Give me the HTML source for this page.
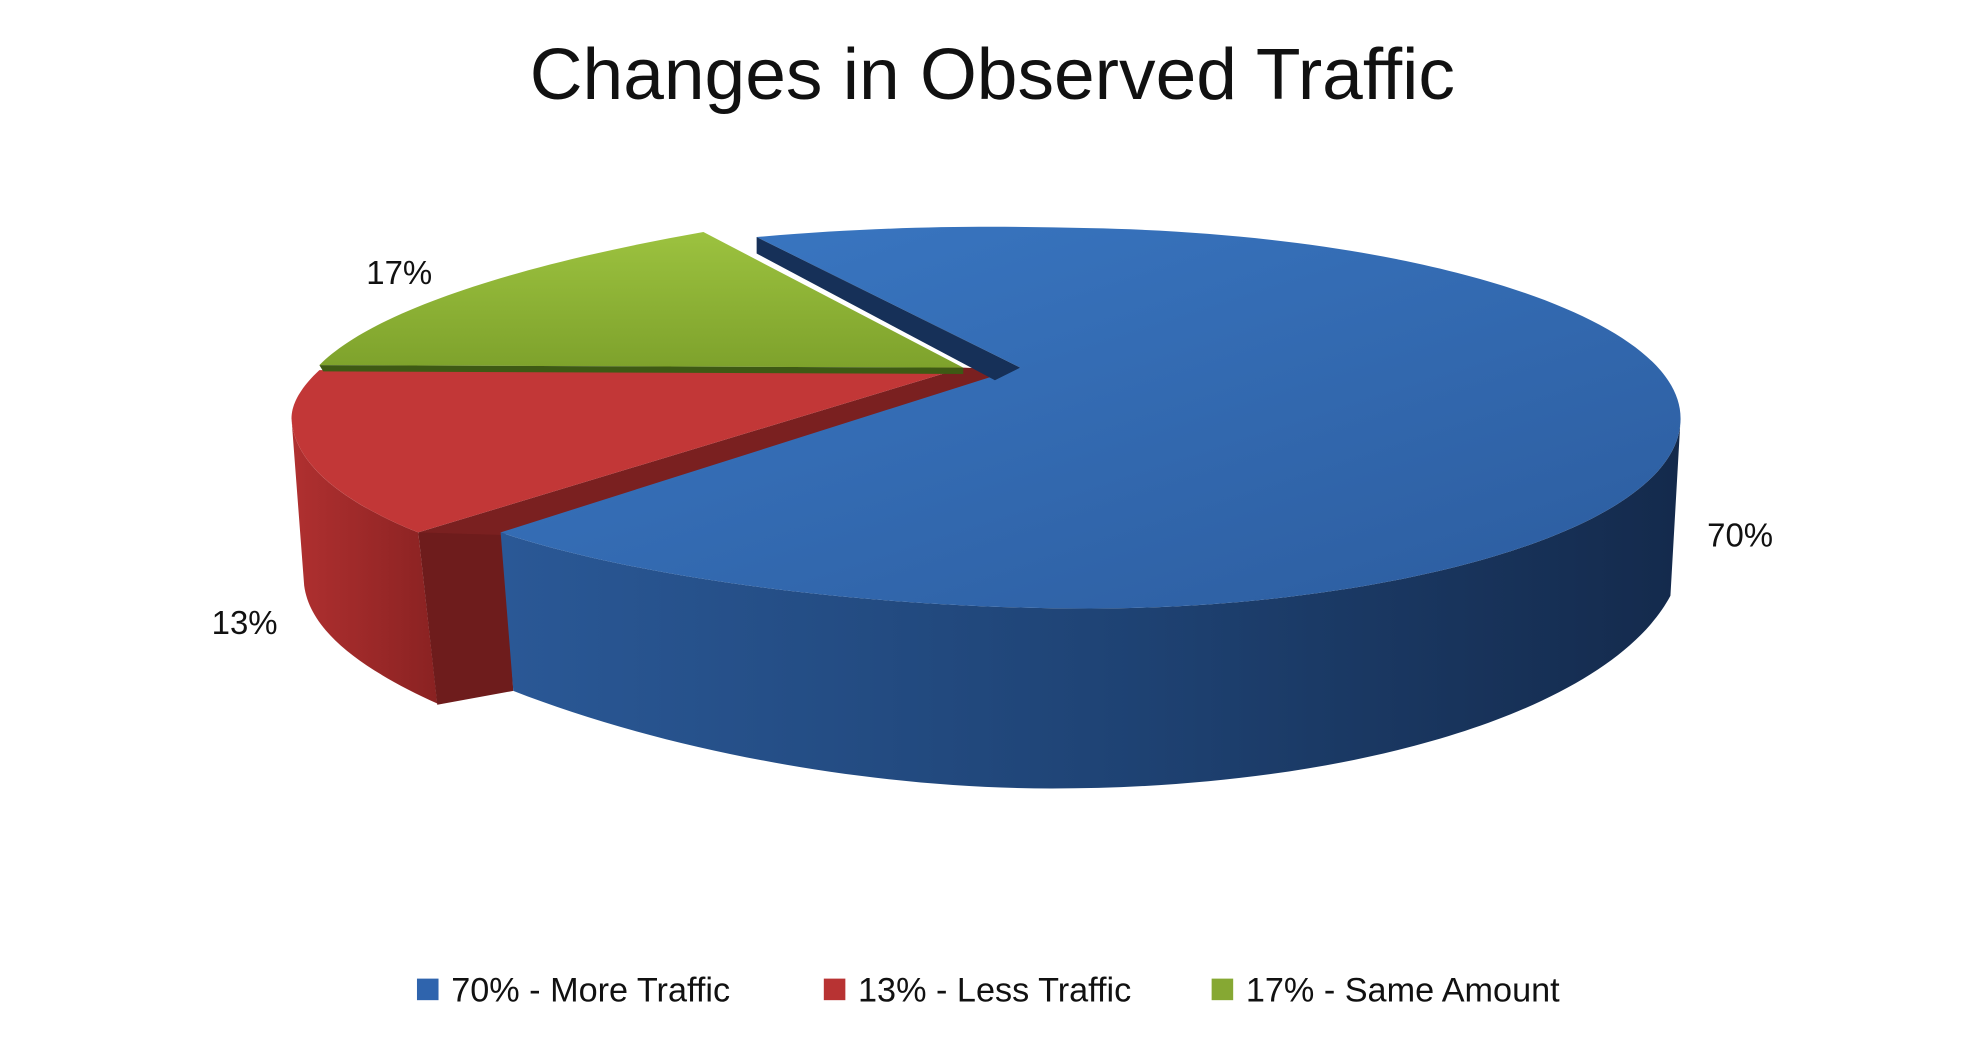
<!DOCTYPE html>
<html><head><meta charset="utf-8"><style>
html,body{margin:0;padding:0;background:#fff;}
svg{display:block}
text{font-family:"Liberation Sans",sans-serif;fill:#111}
</style></head><body>
<svg width="1967" height="1042" viewBox="0 0 1552 822" preserveAspectRatio="none">
<defs>
<linearGradient id="bs" x1="0" x2="1" y1="0" y2="0">
<stop offset="0" stop-color="#2a5896"/><stop offset="0.5" stop-color="#1f4476"/><stop offset="1" stop-color="#142a4c"/></linearGradient>
<linearGradient id="bt" x1="0" x2="1" y1="0" y2="1">
<stop offset="0" stop-color="#3a78c4"/><stop offset="1" stop-color="#2c5c9e"/></linearGradient>
<linearGradient id="rs" x1="0" x2="1"><stop offset="0" stop-color="#b03030"/><stop offset="1" stop-color="#8a2222"/></linearGradient>
<linearGradient id="gt" x1="0" x2="0" y1="0" y2="1"><stop offset="0" stop-color="#9cc23f"/><stop offset="1" stop-color="#7ea22c"/></linearGradient>
</defs>
<text x="783" y="78" font-size="57" text-anchor="middle" textLength="730" lengthAdjust="spacingAndGlyphs">Changes in Observed Traffic</text>
<!-- red side -->
<path d="M230,330 C232,370 280,400 330,420 L345,555 C290,530 245,500 240,462 Z" fill="url(#rs)"/>
<path d="M330,420 L397,408 L405,545 L345,556 Z" fill="#6e1c1c"/>
<!-- red inner face -->
<path d="M760,290 L330,420 L397,422 L805,292 Z" fill="#7a2020"/>
<!-- red top -->
<path d="M760,290 L252,292 C238,305 230,318 230,330 C232,370 280,400 330,420 Z" fill="#c23737"/>
<!-- green top -->
<path d="M760,290 L555,183 C430,205 300,240 252,288 Z" fill="url(#gt)"/>
<path d="M252,288 L760,290 L760,295 L255,293 Z" fill="#3e5a14"/>
<!-- blue side -->
<path d="M1326,330 C1326,420 1090,480 860,480 C680,480 500,455 395,420 L405,545 C520,590 680,622 830,622 C1070,622 1270,560 1318,470 Z" fill="url(#bs)"/>
<!-- blue top -->
<path d="M805,290 L597,187 C700,178 780,178 860,180 C1120,185 1326,250 1326,330 C1326,420 1090,480 860,480 C680,480 500,455 395,420 Z" fill="url(#bt)"/>
<path d="M805,290 L597,187 L597,200 L785,300 Z" fill="#163058"/>
<text x="315" y="224" font-size="26" text-anchor="middle">17%</text>
<text x="193" y="500" font-size="26" text-anchor="middle">13%</text>
<text x="1373" y="431" font-size="26" text-anchor="middle">70%</text>
<rect x="329" y="772" width="17" height="17" fill="#2f64ad"/>
<text x="356" y="790" font-size="27">70% - More Traffic</text>
<rect x="650" y="772" width="17" height="17" fill="#b83333"/>
<text x="677" y="790" font-size="27">13% - Less Traffic</text>
<rect x="956" y="772" width="17" height="17" fill="#86a833"/>
<text x="983" y="790" font-size="27">17% - Same Amount</text>
</svg>
</body></html>
